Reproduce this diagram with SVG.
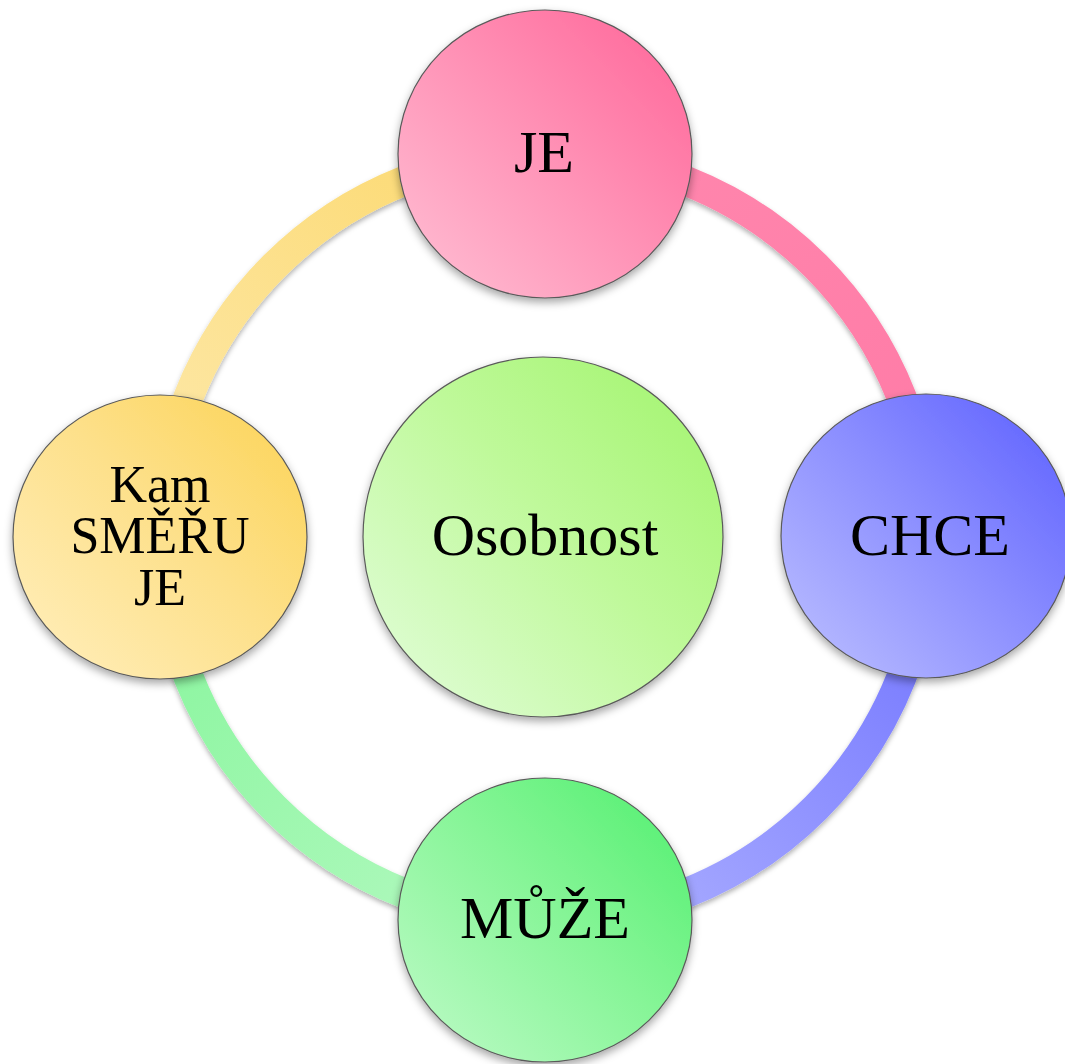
<svg xmlns="http://www.w3.org/2000/svg" width="1065" height="1064" viewBox="0 0 1065 1064">
<style>
.node{stroke:#5a5a5a;stroke-width:1.2;filter:url(#sh)}
.ring{fill:none;stroke-width:30;filter:url(#sh2)}
text{font-family:"Liberation Serif","Times New Roman",serif;font-size:60px;fill:#000;text-anchor:middle}
.small{font-size:52px}
</style>
<defs>
<filter id="sh" x="-20%" y="-20%" width="140%" height="140%">
<feDropShadow dx="0" dy="4" stdDeviation="4" flood-color="#000" flood-opacity="0.35"/>
</filter>
<filter id="sh2" x="-20%" y="-20%" width="140%" height="140%">
<feDropShadow dx="0" dy="3" stdDeviation="2.5" flood-color="#000" flood-opacity="0.3"/>
</filter>
<linearGradient id="gPink" x1="0.15" y1="0.85" x2="0.95" y2="0.1">
<stop offset="0" stop-color="#ffb3cc"/><stop offset="0.5" stop-color="#ff8fb4"/><stop offset="1" stop-color="#ff6a9c"/>
</linearGradient>
<linearGradient id="gBlue" x1="0.15" y1="0.85" x2="0.95" y2="0.1">
<stop offset="0" stop-color="#b0b3ff"/><stop offset="0.5" stop-color="#8a8dff"/><stop offset="1" stop-color="#6265ff"/>
</linearGradient>
<linearGradient id="gGreen" x1="0.15" y1="0.85" x2="0.95" y2="0.1">
<stop offset="0" stop-color="#b0f9bb"/><stop offset="0.5" stop-color="#86f597"/><stop offset="1" stop-color="#58f074"/>
</linearGradient>
<linearGradient id="gYellow" x1="0.15" y1="0.85" x2="0.95" y2="0.1">
<stop offset="0" stop-color="#ffebb0"/><stop offset="0.5" stop-color="#fde08a"/><stop offset="1" stop-color="#fcd55c"/>
</linearGradient>
<linearGradient id="gCenter" x1="0.15" y1="0.85" x2="0.95" y2="0.1">
<stop offset="0" stop-color="#dafccb"/><stop offset="0.5" stop-color="#bff99a"/><stop offset="1" stop-color="#a5f572"/>
</linearGradient>
<linearGradient id="rPink" gradientUnits="userSpaceOnUse" x1="545" y1="154" x2="928" y2="537">
<stop offset="0" stop-color="#ff88ae"/><stop offset="1" stop-color="#ff7aa6"/>
</linearGradient>
<linearGradient id="rBlue" gradientUnits="userSpaceOnUse" x1="928" y1="537" x2="545" y2="920">
<stop offset="0" stop-color="#7073ff"/><stop offset="1" stop-color="#b0b3ff"/>
</linearGradient>
<linearGradient id="rGreen" gradientUnits="userSpaceOnUse" x1="162" y1="537" x2="545" y2="920">
<stop offset="0" stop-color="#86f59b"/><stop offset="1" stop-color="#b4f9c1"/>
</linearGradient>
<linearGradient id="rYellow" gradientUnits="userSpaceOnUse" x1="545" y1="154" x2="162" y2="537">
<stop offset="0" stop-color="#fcd86c"/><stop offset="1" stop-color="#fde9ac"/>
</linearGradient>
</defs>
<g id="connectors">
<path class="ring" stroke="url(#rPink)" d="M545,154 A383,383 0 0 1 928,537"/>
<path class="ring" stroke="url(#rBlue)" d="M928,537 A383,383 0 0 1 545,920"/>
<path class="ring" stroke="url(#rGreen)" d="M545,920 A383,383 0 0 1 162,537"/>
<path class="ring" stroke="url(#rYellow)" d="M162,537 A383,383 0 0 1 545,154"/>
</g>
<g id="node-osobnost">
<circle class="node" cx="543" cy="537" r="180" fill="url(#gCenter)"/>
<text x="545" y="555">Osobnost</text>
</g>
<g id="node-je">
<ellipse class="node" cx="545" cy="154" rx="147" ry="144" fill="url(#gPink)"/>
<text x="544" y="172">JE</text>
</g>
<g id="node-chce">
<ellipse class="node" cx="926" cy="536" rx="145" ry="142" fill="url(#gBlue)"/>
<text x="930" y="555">CHCE</text>
</g>
<g id="node-muze">
<ellipse class="node" cx="545" cy="920" rx="147" ry="142" fill="url(#gGreen)"/>
<text x="545" y="938">MŮŽE</text>
</g>
<g id="node-kam">
<ellipse class="node" cx="160" cy="537" rx="147" ry="142" fill="url(#gYellow)"/>
<text class="small" x="160" y="502">Kam</text>
<text class="small" x="160" y="553">SMĚŘU</text>
<text class="small" x="160" y="605">JE</text>
</g>
</svg>
